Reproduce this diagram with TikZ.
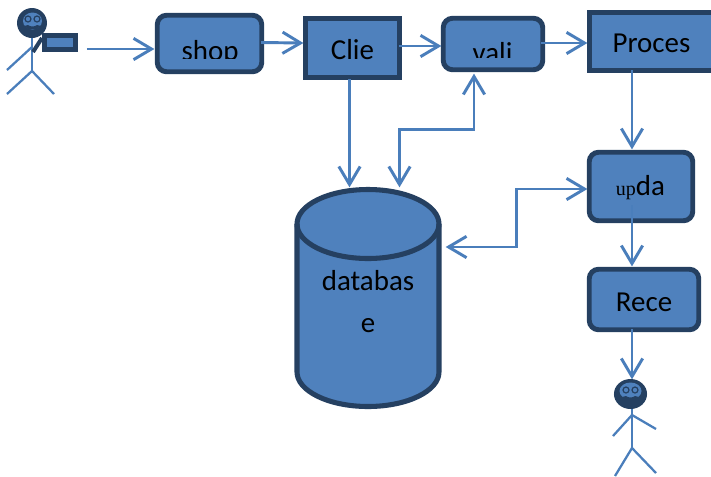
\documentclass[tikz,border=0pt]{standalone}
\usepackage{fontspec}
\setmainfont{Carlito}
\newfontfamily\upfont{Liberation Serif}
\usetikzlibrary{arrows.meta,calc,shapes.geometric}
\definecolor{boxfill}{HTML}{4F81BD}
\definecolor{boxline}{HTML}{254061}
\definecolor{conn}{HTML}{4A7EBB}
\tikzset{
  x=0.75pt,y=-0.75pt,
  boxsize/.style 2 args={minimum width=#1*0.75pt,minimum height=#2*0.75pt},
  flowbox/.style={draw=boxline,fill=boxfill,line width=3.7pt,inner sep=0pt},
  roundbox/.style={flowbox,rounded corners=7pt},
  label/.style={anchor=base,inner sep=0pt,outer sep=0pt,font=\fontsize{21.7pt}{26pt}\selectfont,text=black},
  flow/.style={draw=conn,line width=2.2pt,shorten >=-1.2pt,-{Straight Barb[length=13.5pt,width=16pt,line width=2.2pt]}},
  flowboth/.style={draw=conn,line width=2.2pt,shorten >=-1.2pt,shorten <=-1.2pt,{Straight Barb[length=13.5pt,width=16pt,line width=2.2pt]}-{Straight Barb[length=13.5pt,width=16pt,line width=2.2pt]}},
  stick/.style={draw=conn,line width=1.7pt},
  dbline/.style={draw=boxline,line width=3.8pt,fill=boxfill,line join=round}
}
\begin{document}
\begin{tikzpicture}
\clip (0,0) rectangle (711,476);
\fill[white] (0,0) rectangle (711,476);

% boxes
\node[roundbox,boxsize={104.5}{56.5}] (shop) at (209.5,43.5) {};
\node[flowbox,boxsize={94.5}{59.5}] (clie) at (352.5,48) {};
\node[roundbox,boxsize={99.5}{51.5}] (vali) at (493,44) {};
\node[flowbox,boxsize={153.5}{58.5}] (proc) at (666,41.5) {};
\node[roundbox,boxsize={103.5}{68.5}] (upd) at (641,186.5) {};
\node[roundbox,boxsize={109.5}{60.5}] (rece) at (644,299.5) {};

% database cylinder
\node[inner sep=0pt,boxsize={148}{222}] (db) at (368,298) {};
\draw[dbline] (297,224) arc[start angle=180,end angle=360,x radius=71,y radius=34.5]
  -- (439,372) arc[start angle=0,end angle=180,x radius=71,y radius=34.5] -- cycle;
\draw[dbline,fill=none] (297,224) arc[start angle=180,end angle=0,x radius=71,y radius=34.5];

% box texts
\begin{scope}
  \clip (170,30) rectangle (250,58.5);
  \node[label] (shoptext) at (210,60) {shop};
\end{scope}
\node[label] (clietext) at (352.5,59) {Clie};
\begin{scope}
  \clip (460,30) rectangle (525,57);
  \node[label] (valitext) at (492.5,62) {vali};
\end{scope}
\node[label] (proctext) at (651.5,52) {Proces};
\node[label] (updtext) at (640.5,195) {{\upfont\fontsize{15pt}{18pt}\selectfont up}da};
\node[label] (recetext) at (644,311) {Rece};
\node[label] (dbtextA) at (368,290) {databas};
\node[label] (dbtextB) at (368,332) {e};

% first actor
\draw[stick] (32,36) -- (32,71);
\draw[stick] (7,70) -- (32,47);
\draw[stick] (7,94) -- (32,71) -- (54,94);
\draw[boxline,line width=3pt] (33,52) -- (42,38);
\node[flowbox,boxsize={31}{14}] (cam) at (60,42.5) {};
\node[circle,fill=boxline,inner sep=0pt,minimum size=22.5pt] (headA) at (32,23) {};
\fill[boxfill] (32.5,21) ellipse[x radius=9.5,y radius=8.5];
\draw[boxline,line width=.9pt] (28,19) circle[radius=3] (37,19) circle[radius=3];
\fill[boxline] (24,26) -- (28,25) .. controls (31,27) and (34,27) .. (37,25) -- (41,26) -- (37,29) -- (28,29) -- cycle;

% second actor
\draw[stick] (632,404) -- (632,448);
\draw[stick] (613,436) -- (632,415) -- (656,429);
\draw[stick] (615,476) -- (632,448) -- (656,473);
\node[ellipse,fill=boxline,inner sep=0pt,minimum width=24.8pt,minimum height=22.5pt] (headB) at (630.5,394) {};
\fill[boxfill] (630.5,391) ellipse[x radius=11,y radius=8.5];
\draw[boxline,line width=.9pt] (626,390) circle[radius=3] (635,390) circle[radius=3];
\fill[boxline] (622,397) -- (626,396) .. controls (629,398) and (632,398) .. (635,396) -- (639,397) -- (635,400) -- (626,400) -- cycle;

% connectors
\draw[flow] ($(cam.east)+(9,6.5)$) -- ($(shop.west)+(-2,5.5)$);
\draw[flow] ($(shop.east)+(-3,-1)$) -- ($(clie.west)+(-1,-5)$);
\draw[flow] ($(clie.east)+(-3,-2)$) -- ($(vali.west)+(-1,2)$);
\draw[flow] ($(vali.east)+(-4,-1)$) -- ($(proc.west)+(-1,1.5)$);
\draw[flow] ($(clie.south)+(-3,-1)$) -- ($(db.north)+(-18.5,-1)$);
\draw[flowboth] ($(db.north)+(31.5,-1)$) -- ++(0,-56) -| ($(vali.south)+(-19,3)$);
\draw[flow] ($(proc.south)+(-34,-3)$) -- ($(upd.north)+(-9,-2)$);
\draw[flowboth] ($(db.east)+(5,-51)$) -- ++(69,0) |- ($(upd.west)+(-1,2.5)$);
\draw[flow] ($(upd.south)+(-9,-18)$) -- ($(rece.north)+(-12,-2)$);
\draw[flow] ($(rece.south)+(-12,-3)$) -- ($(headB.north)+(1.5,-1)$);
\end{tikzpicture}
\end{document}
